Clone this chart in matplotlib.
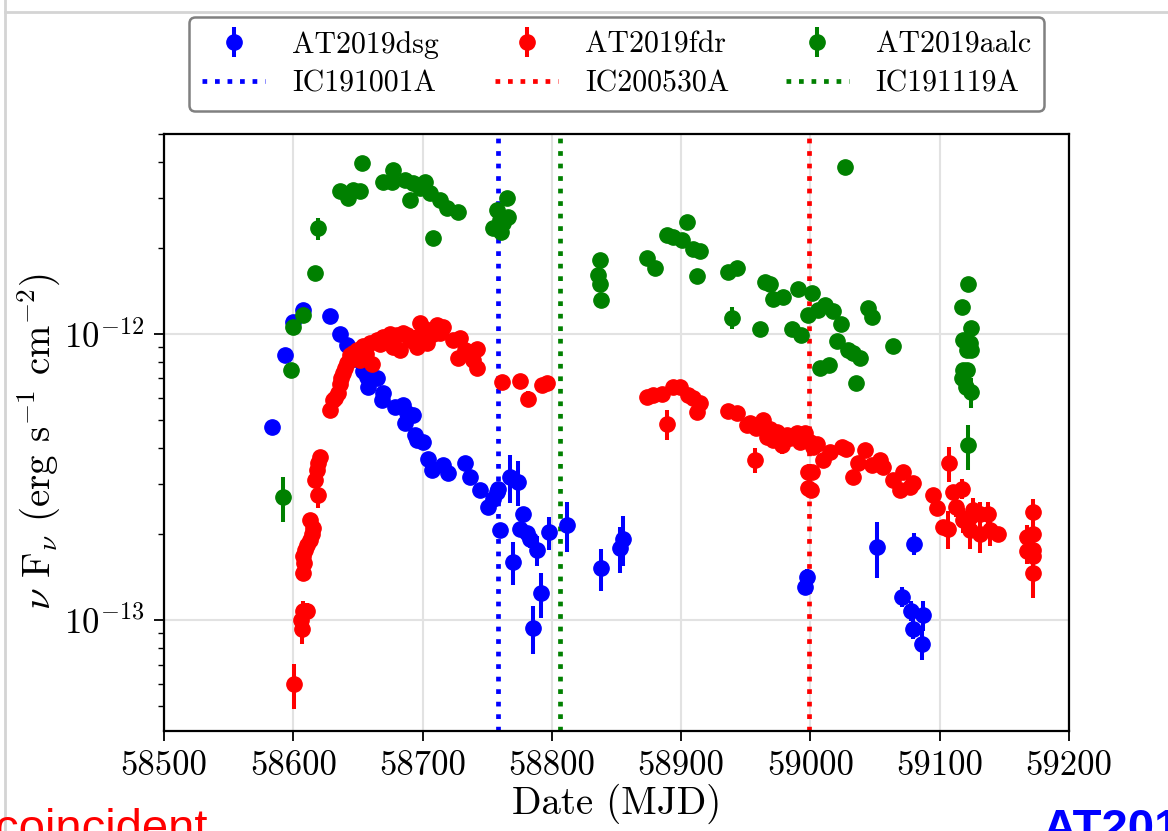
import matplotlib
matplotlib.use("Agg")
import matplotlib.pyplot as plt
import numpy as np
from matplotlib.lines import Line2D

plt.rcParams["font.family"] = "serif"
plt.rcParams["font.serif"] = ["cmr10"]
plt.rcParams["mathtext.fontset"] = "cm"
plt.rcParams["axes.formatter.use_mathtext"] = True

# ---------------- data ----------------
# AT2019dsg : MJD, nu F_nu (erg s^-1 cm^-2), fractional error
dsg_mjd = [58583.3, 58593.6, 58600.0, 58607.7, 58628.4, 58636.1, 58641.3, 58648.0,
           58654.0, 58656.8, 58658.0, 58664.5, 58669.6, 58668.4, 58678.7, 58685.0,
           58687.7, 58692.8, 58686.4, 58694.0, 58695.4, 58700.5, 58704.4, 58707.0,
           58716.0, 58719.9, 58732.8, 58736.7, 58744.4, 58750.8, 58754.7, 58757.3,
           58758.5, 58759.9, 58767.6, 58774.0, 58770.2, 58777.9, 58775.3, 58780.5,
           58783.0, 58788.2, 58798.0, 58791.6, 58785.6, 58811.9, 58837.7, 58852.7,
           58854.7, 58997.0, 58995.8, 59051.5, 59080.0, 59071.2, 59078.2, 59087.2,
           59079.5, 59086.7]
dsg_flux = [4.74e-13, 8.45e-13, 1.10e-12, 1.21e-12, 1.16e-12, 1.00e-12, 9.15e-13, 8.2e-13,
            7.4e-13, 7.09e-13, 6.54e-13, 7.00e-13, 6.20e-13, 5.88e-13, 5.57e-13, 5.64e-13,
            5.28e-13, 5.20e-13, 4.87e-13, 4.43e-13, 4.26e-13, 4.20e-13, 3.67e-13, 3.35e-13,
            3.48e-13, 3.26e-13, 3.53e-13, 3.17e-13, 2.85e-13, 2.49e-13, 2.66e-13, 2.81e-13,
            2.88e-13, 2.06e-13, 3.17e-13, 3.05e-13, 1.60e-13, 2.36e-13, 2.09e-13, 2.01e-13,
            1.93e-13, 1.76e-13, 2.03e-13, 1.24e-13, 9.43e-14, 2.16e-13, 1.52e-13, 1.79e-13,
            1.93e-13, 1.42e-13, 1.31e-13, 1.80e-13, 1.85e-13, 1.21e-13, 1.08e-13, 1.04e-13,
            9.35e-14, 8.24e-14]
dsg_ferr = [0.03, 0.03, 0.03, 0.03, 0.03, 0.03, 0.03, 0.03,
            0.03, 0.03, 0.03, 0.03, 0.03, 0.03, 0.03, 0.03,
            0.03, 0.03, 0.03, 0.03, 0.03, 0.03, 0.03, 0.03,
            0.03, 0.03, 0.04, 0.05, 0.05, 0.05, 0.04, 0.04,
            0.04, 0.06, 0.19, 0.18, 0.17, 0.05, 0.05, 0.06,
            0.07, 0.12, 0.13, 0.18, 0.19, 0.20, 0.17, 0.18,
            0.20, 0.06, 0.06, 0.22, 0.09, 0.08, 0.08, 0.12,
            0.08, 0.12]

# AT2019fdr
fdr_mjd = [58600.8, 58606.4, 58605.7, 58607.7, 58610.4, 58607.7, 58608.5, 58607.7,
           58609.0, 58611.0, 58612.9, 58614.2, 58615.0, 58612.9, 58619.3, 58616.8,
           58618.1, 58620.6, 58619.3,
           58628.4, 58630.7, 58632.0, 58634.6, 58636.1, 58637.0, 58638.4, 58640.0,
           58641.5, 58643.8, 58646.0, 58649.3, 58651.6, 58653.9, 58656.0, 58659.3,
           58660.9, 58664.7, 58667.0, 58669.4, 58672.0, 58674.8, 58677.1, 58680.2,
           58682.5, 58684.8, 58688.0, 58690.3, 58695.7, 58695.7, 58698.0, 58700.0,
           58703.4, 58705.7, 58708.0, 58711.1, 58713.5, 58715.8,
           58723.7, 58728.9, 58727.6, 58732.8, 58741.8, 58739.2, 58741.8, 58736.7,
           58761.2, 58775.3, 58781.7, 58792.1, 58796.0,
           58873.3, 58878.4, 58884.9, 58893.9, 58899.1, 58905.5, 58909.4, 58914.5,
           58912.0, 58888.8, 58936.4, 58942.9, 58953.2, 58963.5, 58968.7, 58973.9,
           58981.6, 58989.3, 58995.7, 58957.1, 58950.6, 58958.3, 58966.1, 58971.2,
           58977.7, 58984.1, 58991.9, 58998.3, 58998.3, 58999.6, 59002.2, 59004.8,
           59000.9, 59000.4, 59009.9, 59015.1, 59024.1, 59027.9, 59033.1, 59036.9,
           59042.1, 59047.3, 59053.7, 59056.3, 59064.0, 59069.2, 59071.8, 59079.5,
           59077.0, 59095.0, 59097.6, 59107.1, 59106.6, 59110.5, 59116.9, 59113.0,
           59118.2, 59123.4, 59125.9, 59131.1, 59123.4, 59131.1, 59137.5, 59138.8,
           59145.3, 59102.7,
           59172.3, 59167.2, 59172.3, 59172.3, 59167.2, 59172.3, 59172.3]
fdr_flux = [5.97e-14, 9.35e-14, 1.00e-13, 1.08e-13, 1.08e-13, 1.46e-13, 1.58e-13, 1.67e-13,
            1.76e-13, 1.83e-13, 1.90e-13, 2.00e-13, 2.10e-13, 2.24e-13, 2.74e-13, 3.09e-13,
            3.35e-13, 3.72e-13, 3.53e-13,
            5.42e-13, 5.88e-13, 6.00e-13, 6.22e-13, 6.68e-13, 7.00e-13, 7.30e-13, 7.60e-13,
            7.92e-13, 8.45e-13, 8.60e-13, 8.80e-13, 8.11e-13, 9.08e-13, 8.50e-13, 9.30e-13,
            7.86e-13, 9.53e-13, 9.20e-13, 9.76e-13, 9.40e-13, 1.00e-12, 9.00e-13, 9.92e-13,
            8.80e-13, 1.008e-12, 9.90e-13, 9.53e-13, 9.76e-13, 9.00e-13, 1.09e-12, 1.05e-12,
            9.30e-13, 1.03e-12, 1.00e-12, 1.075e-12, 1.008e-12, 1.06e-12,
            9.53e-13, 9.66e-13, 8.22e-13, 8.79e-13, 8.90e-13, 8.11e-13, 7.59e-13, 8.56e-13,
            6.81e-13, 6.87e-13, 5.95e-13, 6.64e-13, 6.73e-13,
            6.04e-13, 6.12e-13, 6.17e-13, 6.54e-13, 6.54e-13, 6.12e-13, 5.96e-13, 5.73e-13,
            5.35e-13, 4.84e-13, 5.38e-13, 5.28e-13, 4.87e-13, 5.00e-13, 4.67e-13, 4.56e-13,
            4.44e-13, 4.50e-13, 4.50e-13, 3.63e-13, 4.81e-13, 4.68e-13, 4.38e-13, 4.26e-13,
            4.09e-13, 4.32e-13, 4.20e-13, 3.30e-13, 2.89e-13, 4.20e-13, 4.03e-13, 4.14e-13,
            3.30e-13, 2.86e-13, 3.63e-13, 3.88e-13, 4.03e-13, 3.95e-13, 3.17e-13, 3.53e-13,
            3.93e-13, 3.48e-13, 3.63e-13, 3.44e-13, 3.09e-13, 2.85e-13, 3.30e-13, 3.01e-13,
            2.93e-13, 2.74e-13, 2.46e-13, 3.53e-13, 2.09e-13, 2.81e-13, 2.88e-13, 2.49e-13,
            2.24e-13, 2.30e-13, 2.43e-13, 2.36e-13, 2.06e-13, 2.00e-13, 2.36e-13, 2.06e-13,
            2.00e-13, 2.12e-13,
            2.39e-13, 1.95e-13, 2.00e-13, 1.76e-13, 1.74e-13, 1.67e-13, 1.46e-13]
fdr_ferr = [0.18, 0.12, 0.08, 0.08, 0.06, 0.06, 0.06, 0.06,
            0.06, 0.05, 0.05, 0.05, 0.05, 0.05, 0.10, 0.05,
            0.05, 0.05, 0.05] + [0.03] * 38 + \
           [0.03, 0.03, 0.03, 0.03, 0.03, 0.03, 0.03, 0.03,
            0.03, 0.03, 0.06, 0.03, 0.03,
            0.03, 0.03, 0.03, 0.03, 0.03, 0.03, 0.03, 0.03,
            0.03, 0.12, 0.03, 0.03, 0.03, 0.03, 0.03, 0.03,
            0.03, 0.03, 0.03, 0.10, 0.03, 0.03, 0.03, 0.03,
            0.07, 0.03, 0.03, 0.03, 0.05, 0.03, 0.03, 0.03,
            0.03, 0.06, 0.03, 0.03, 0.03, 0.03, 0.05, 0.03,
            0.03, 0.03, 0.03, 0.03, 0.03, 0.03, 0.03, 0.03,
            0.03, 0.03, 0.03, 0.14, 0.15, 0.03, 0.08, 0.08,
            0.10, 0.10, 0.10, 0.10, 0.14, 0.14, 0.10, 0.12,
            0.05, 0.05,
            0.11, 0.10, 0.10, 0.12, 0.10, 0.12, 0.18]

# AT2019aalc
aalc_mjd = [58592.3, 58598.2, 58600.0, 58607.7, 58616.8, 58619.3, 58636.0, 58642.5,
            58646.4, 58651.6, 58653.0, 58669.6, 58676.1, 58677.4, 58686.4, 58692.8,
            58701.9, 58690.3, 58698.0, 58705.7, 58713.5, 58718.6, 58727.6, 58708.3,
            58754.7, 58757.3, 58765.0, 58759.9, 58762.4, 58766.3, 58761.0,
            58837.2, 58835.9, 58837.2, 58837.7, 58873.3, 58879.7, 58888.8, 58893.9,
            58900.4, 58904.2, 58909.4, 58914.5, 58912.0, 58936.4, 58943.4, 58939.5,
            58964.8, 58968.7, 58971.2, 58979.0, 58990.6, 58961.0, 58985.4, 58993.1,
            59001.6, 58998.3, 59011.2, 59017.6, 59006.0, 59023.3, 59020.2, 59029.2,
            59033.0, 59038.3, 59007.8, 59014.5, 59035.2, 59044.7, 59047.3, 59064.0,
            59026.7, 59122.0, 59117.6, 59124.5, 59118.0, 59123.4, 59120.8, 59124.5,
            59118.0, 59121.0, 59117.6, 59120.7, 59124.5, 59122.0]
aalc_flux = [2.69e-13, 7.48e-13, 1.06e-12, 1.165e-12, 1.63e-12, 2.34e-12, 3.15e-12, 2.98e-12,
             3.18e-12, 3.17e-12, 3.95e-12, 3.41e-12, 3.41e-12, 3.75e-12, 3.45e-12, 3.37e-12,
             3.41e-12, 2.94e-12, 3.23e-12, 3.10e-12, 2.94e-12, 2.75e-12, 2.68e-12, 2.16e-12,
             2.34e-12, 2.71e-12, 2.98e-12, 2.50e-12, 2.44e-12, 2.57e-12, 2.28e-12,
             1.81e-12, 1.61e-12, 1.50e-12, 1.32e-12, 1.84e-12, 1.70e-12, 2.22e-12, 2.19e-12,
             2.13e-12, 2.47e-12, 1.99e-12, 1.95e-12, 1.59e-12, 1.65e-12, 1.70e-12, 1.14e-12,
             1.52e-12, 1.50e-12, 1.33e-12, 1.35e-12, 1.44e-12, 1.04e-12, 1.04e-12, 9.90e-13,
             1.39e-12, 1.165e-12, 1.26e-12, 1.20e-12, 1.21e-12, 1.08e-12, 9.45e-13, 8.80e-13,
             8.56e-13, 8.23e-13, 7.64e-13, 7.79e-13, 6.76e-13, 1.23e-12, 1.15e-12, 9.08e-13,
             3.85e-12, 1.50e-12, 1.24e-12, 1.05e-12, 9.53e-13, 9.30e-13, 8.80e-13, 8.80e-13,
             7.48e-13, 7.48e-13, 7.00e-13, 6.54e-13, 6.28e-13, 4.09e-13]
aalc_ferr = [0.18, 0.03, 0.03, 0.03, 0.03, 0.09] + [0.03] * 25 + \
            [0.03, 0.03, 0.03, 0.05, 0.03, 0.03, 0.03, 0.03,
             0.03, 0.03, 0.03, 0.03, 0.03, 0.03, 0.03, 0.09,
             0.03, 0.03, 0.03, 0.03, 0.03, 0.03, 0.03, 0.03,
             0.03, 0.03, 0.03, 0.03, 0.03, 0.03, 0.03, 0.03,
             0.03, 0.03, 0.03, 0.03, 0.04, 0.03, 0.03, 0.04,
             0.03, 0.03, 0.03, 0.03, 0.03, 0.03, 0.03, 0.03,
             0.03, 0.03, 0.03, 0.03, 0.12, 0.18]

# neutrino arrival times (MJD)
nu_names = ["IC191001A", "IC200530A", "IC191119A"]
nu_mjd = [58758.0, 58999.3, 58806.0]

xticks = [58500, 58600, 58700, 58800, 58900, 59000, 59100, 59200]

# ---------------- figure ----------------
fig = plt.figure(figsize=(11.68, 8.31), dpi=100)
ax = fig.add_axes([0.1404, 0.1203, 0.7748, 0.7184])

ax.set_yscale("log")
ax.set_xlim(58500, 59200)
ax.set_ylim(4.1e-14, 5.0e-12)
ax.set_xticks(xticks)
ax.set_xticklabels([str(t) for t in xticks])

ax.grid(True, which="major", color="#e2e2e2", lw=1.5, zorder=0)
ax.set_axisbelow(True)

vcols = ["blue", "red", "green"]
vhandles = []
for name, m, c in zip(nu_names, nu_mjd, vcols):
    h = ax.axvline(m, color=c, ls=":", lw=3.4, zorder=1.5, label=name)
    vhandles.append(h)

ekw = dict(fmt="o", ms=11, elinewidth=2.9, capsize=0, zorder=3)
series = [("AT2019dsg", dsg_mjd, dsg_flux, dsg_ferr, "blue"),
          ("AT2019fdr", fdr_mjd, fdr_flux, fdr_ferr, "red"),
          ("AT2019aalc", aalc_mjd, aalc_flux, aalc_ferr, "green")]
dhandles = []
for name, x, y, fe, c in series:
    y = np.asarray(y)
    yerr = np.asarray(fe) * y
    h = ax.errorbar(x, y, yerr=yerr, color=c, label=name, **ekw)
    dhandles.append(h)

for s in ax.spines.values():
    s.set_linewidth(1.6)
    s.set_color("black")

ax.tick_params(axis="both", which="major", labelsize=25, length=7, width=1.3,
               direction="out", pad=7)
ax.tick_params(axis="y", which="minor", length=4, width=1.0, direction="out")
ax.tick_params(axis="x", which="minor", bottom=False)

ax.set_xlabel("Date (MJD)", fontsize=28)
ax.set_ylabel(r"$\nu$ F$_\nu$ (erg s$^{-1}$ cm$^{-2}$)", fontsize=28)
ax.xaxis.set_label_coords(0.5, -0.088)
ax.yaxis.set_label_coords(-0.112, 0.485)

handles = [dhandles[0], vhandles[0], dhandles[1], vhandles[1], dhandles[2], vhandles[2]]
labels = ["AT2019dsg", "IC191001A", "AT2019fdr", "IC200530A", "AT2019aalc", "IC191119A"]
leg = ax.legend(handles, labels, ncol=3, loc="upper center",
                bbox_to_anchor=(0.5278, 0.979), bbox_transform=fig.transFigure,
                borderaxespad=0.0,
                fontsize=21.5, fancybox=True, framealpha=1.0, edgecolor="0.5",
                handlelength=2.1, columnspacing=1.9, handletextpad=0.9,
                borderpad=0.45, labelspacing=0.38)
leg.get_frame().set_linewidth(1.8)

# slide frame and surrounding slide text
fig.add_artist(Line2D([5 / 1168, 5 / 1168], [0, 1], color="#d4d4d4", lw=2,
                      transform=fig.transFigure))
fig.add_artist(Line2D([5 / 1168, 1], [1 - 12 / 831, 1 - 12 / 831], color="#d4d4d4",
                      lw=2, transform=fig.transFigure))
fig.text(-0.004, -0.013, "coincident", color="red", fontsize=34,
         family="Liberation Sans", va="baseline", ha="left")
fig.text(1043 / 1168, -0.013, "AT201", color="blue", fontsize=34,
         family="Liberation Sans", weight="bold", va="baseline", ha="left")

fig.savefig("out.png", dpi=100)
